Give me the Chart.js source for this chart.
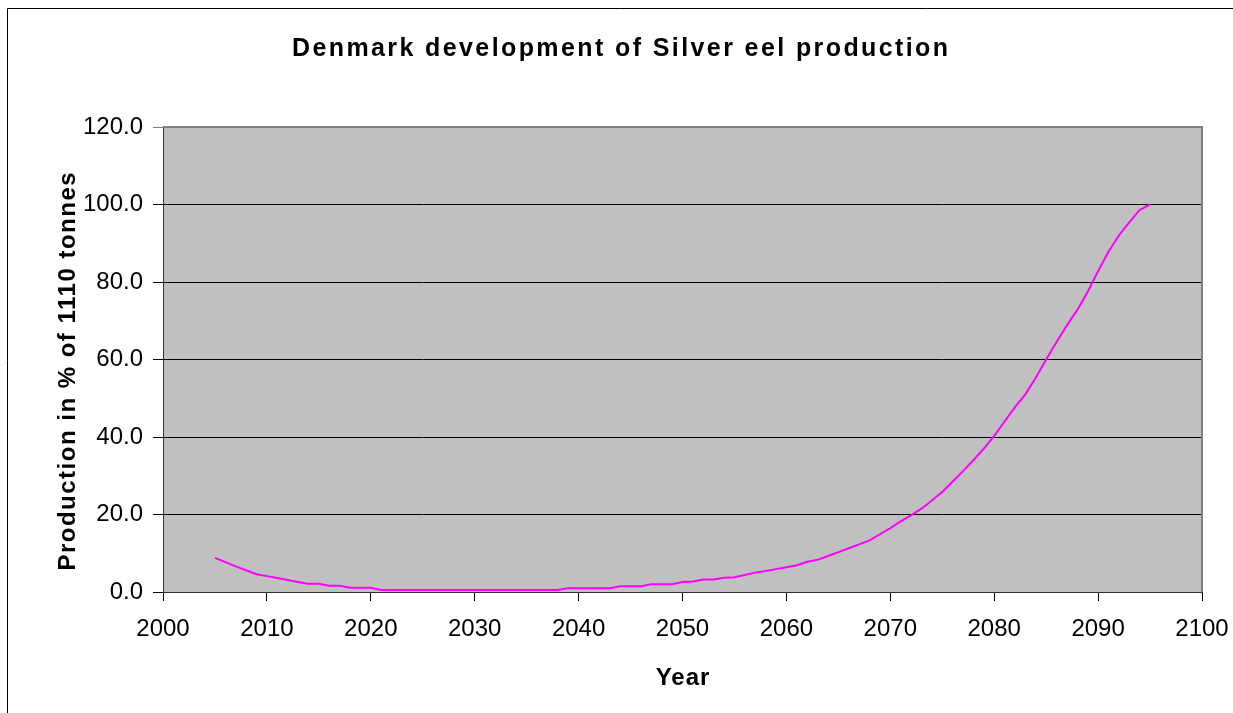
<!DOCTYPE html>
<html>
<head>
<meta charset="utf-8">
<title>Denmark development of Silver eel production</title>
<script src="https://cdn.jsdelivr.net/npm/chart.js@4/dist/chart.umd.min.js"></script>
<style>
  html, body { margin: 0; padding: 0; background: #fff; overflow: hidden; }
  canvas { display: block; }
</style>
</head>
<body>
<canvas id="eelChart" width="1233" height="713"></canvas>
<script>
const years = [
  2005, 2006, 2007, 2008, 2009, 2010, 2011, 2012, 2013, 2014,
  2015, 2016, 2017, 2018, 2019, 2020, 2021, 2022, 2023, 2024,
  2025, 2026, 2027, 2028, 2029, 2030, 2031, 2032, 2033, 2034,
  2035, 2036, 2037, 2038, 2039, 2040, 2041, 2042, 2043, 2044,
  2045, 2046, 2047, 2048, 2049, 2050, 2051, 2052, 2053, 2054,
  2055, 2056, 2057, 2058, 2059, 2060, 2061, 2062, 2063, 2064,
  2065, 2066, 2067, 2068, 2069, 2070, 2071, 2072, 2073, 2074,
  2075, 2076, 2077, 2078, 2079, 2080, 2081, 2082, 2083, 2084,
  2085, 2086, 2087, 2088, 2089, 2090, 2091, 2092, 2093, 2094,
  2095
];

// production in % of 1110 tonnes
const production = [
  8.8, 7.7, 6.6, 5.6, 4.6, 4.1, 3.6, 3.1, 2.6, 2.1,
  2.1, 1.6, 1.6, 1.1, 1.1, 1.1, 0.5, 0.5, 0.5, 0.5,
  0.5, 0.5, 0.5, 0.5, 0.5, 0.5, 0.5, 0.5, 0.5, 0.5,
  0.5, 0.5, 0.5, 0.5, 1.0, 1.0, 1.0, 1.0, 1.0, 1.5,
  1.5, 1.5, 2.0, 2.0, 2.0, 2.6, 2.7, 3.2, 3.2, 3.7,
  3.8, 4.4, 5.0, 5.4, 5.9, 6.4, 6.9, 7.8, 8.3, 9.3,
  10.3, 11.3, 12.3, 13.3, 14.9, 16.5, 18.2, 19.8, 21.5, 23.6,
  25.8, 28.5, 31.2, 34.0, 37.0, 40.3, 44.0, 47.7, 51.0, 55.3,
  60.0, 64.5, 68.8, 72.8, 77.5, 82.8, 87.8, 92.0, 95.4, 98.6,
  100.0
];

const xTicks = [2000, 2010, 2020, 2030, 2040, 2050, 2060, 2070, 2080, 2090, 2100];
const yTicks = [0, 20, 40, 60, 80, 100, 120];

const chartTitle = "Denmark development of Silver eel production";
const xTitle = "Year";
const yTitle = "Production in % of 1110 tonnes";

const FONT = "'Liberation Sans', Arial, sans-serif";

// grey plot area + frame, outer chart border
const plotBackground = {
  id: "plotBackground",
  beforeDraw(chart) {
    const { ctx, chartArea: a } = chart;
    ctx.save();
    ctx.fillStyle = "#C0C0C0";
    ctx.fillRect(a.left, a.top, a.right - a.left, a.bottom - a.top);
    ctx.strokeStyle = "#000";
    ctx.lineWidth = 1;
    ctx.beginPath();
    ctx.moveTo(7.5, 713);
    ctx.lineTo(7.5, 8.5);
    ctx.lineTo(1233, 8.5);
    ctx.stroke();
    ctx.restore();
  },
  beforeDatasetsDraw(chart) {
    const { ctx, chartArea: a } = chart;
    ctx.save();
    ctx.strokeStyle = "#808080";
    ctx.lineWidth = 2;
    ctx.beginPath();
    ctx.moveTo(a.left, a.top);
    ctx.lineTo(a.right, a.top);
    ctx.lineTo(a.right, a.bottom);
    ctx.stroke();
    ctx.restore();
  }
};

// titles are drawn letter-spaced like the original
const spacedTitles = {
  id: "spacedTitles",
  afterDraw(chart) {
    const ctx = chart.ctx;
    const put = (text, x, y, size, spacing, rot) => {
      ctx.save();
      ctx.font = "bold " + size + "px " + FONT;
      ctx.fillStyle = "#000";
      ctx.textAlign = "center";
      ctx.textBaseline = "middle";
      ctx.letterSpacing = spacing + "px";
      ctx.translate(x, y);
      if (rot) ctx.rotate(rot);
      ctx.fillText(text, spacing / 2, 0);
      ctx.restore();
    };
    const a = chart.chartArea;
    put(chartTitle, 620, 49, 25, 2.4, 0);
    put(xTitle, (a.left + a.right) / 2, 678, 24, 1, 0);
    put(yTitle, 68, (a.top + a.bottom) / 2 + 12, 24, 1.5, -Math.PI / 2);
  }
};

new Chart(document.getElementById("eelChart"), {
  type: "line",
  data: {
    datasets: [{
      label: yTitle,
      data: years.map((yr, i) => ({ x: yr, y: production[i] })),
      borderColor: "#FF00FF",
      borderWidth: 2,
      pointRadius: 0,
      tension: 0,
      fill: false
    }]
  },
  options: {
    responsive: false,
    animation: false,
    devicePixelRatio: 1,
    layout: { padding: { top: 127, right: 31, left: 0, bottom: 0 } },
    plugins: {
      legend: { display: false },
      title: { display: false },
      tooltip: { enabled: false }
    },
    scales: {
      x: {
        type: "linear",
        min: 2000,
        max: 2100,
        afterFit: s => {
          s.height = 121;
          s.paddingLeft = 0;
          s.paddingRight = 0;
        },
        afterBuildTicks: s => { s.ticks = xTicks.map(v => ({ value: v })); },
        grid: { drawOnChartArea: false, color: "#000", tickLength: 9 },
        border: { color: "#333", width: 1 },
        ticks: {
          color: "#000",
          padding: 14,
          maxRotation: 0,
          font: { family: FONT, size: 24 },
          callback: v => String(v)
        }
      },
      y: {
        min: 0,
        max: 120,
        afterFit: s => { s.width = 163; },
        afterBuildTicks: s => { s.ticks = yTicks.map(v => ({ value: v })); },
        grid: {
          color: c => (c.tick && c.tick.value === 120 ? "#808080" : "#000"),
          tickLength: 10
        },
        border: { color: "#333", width: 1 },
        ticks: {
          color: "#000",
          padding: 10,
          font: { family: FONT, size: 24 },
          callback: v => Number(v).toFixed(1)
        }
      }
    }
  },
  plugins: [plotBackground, spacedTitles]
});
</script>
</body>
</html>
